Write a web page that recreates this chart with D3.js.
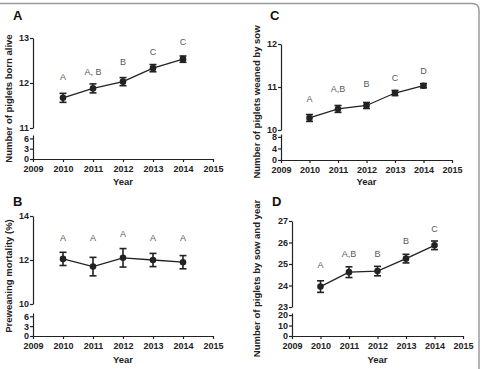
<!DOCTYPE html>
<html>
<head>
<meta charset="utf-8">
<script src="https://cdn.jsdelivr.net/npm/d3@7"></script>
<style>
  body { margin: 0; background: #fff; }
  svg { display: block; font-family: "Liberation Sans", Arial, sans-serif; }
</style>
</head>
<body>
<div id="chart"></div>
<script>
const years = [2010, 2011, 2012, 2013, 2014];
const xTicks = [2009, 2010, 2011, 2012, 2013, 2014, 2015];

// A: piglets born alive
const bornAlive = [11.67, 11.88, 12.03, 12.33, 12.53];
const bornAliveErr = [0.1, 0.1, 0.09, 0.08, 0.07];
const bornAliveLetters = ["A", "A, B", "B", "C", "C"];
const bornAliveLetterAt = [12.13, 12.25, 12.47, 12.69, 12.92];

// B: preweaning mortality (%)
const mortality = [12.05, 11.7, 12.1, 12.0, 11.9];
const mortalityErr = [0.3, 0.42, 0.42, 0.3, 0.3];
const mortalityLetters = ["A", "A", "A", "A", "A"];
const mortalityLetterAt = [13.0, 13.0, 13.2, 13.0, 13.0];

// C: piglets weaned by sow
const weaned = [10.28, 10.49, 10.57, 10.86, 11.03];
const weanedErr = [0.08, 0.08, 0.07, 0.06, 0.05];
const weanedLetters = ["A", "A,B", "B", "C", "D"];
const weanedLetterAt = [10.72, 10.95, 11.07, 11.21, 11.37];

// D: piglets by sow and year
const perSowYear = [23.95, 24.62, 24.67, 25.25, 25.87];
const perSowYearErr = [0.27, 0.25, 0.22, 0.2, 0.2];
const perSowYearLetters = ["A", "A,B", "B", "B", "C"];
const perSowYearLetterAt = [24.95, 25.48, 25.48, 26.1, 26.65];

const panels = [
  {tag: "A", values: bornAlive, err: bornAliveErr, letters: bornAliveLetters, letterAt: bornAliveLetterAt,
   title: "Number of piglets born alive",
   left: 33, right: 213, upper: [11, 13], upperRange: [128, 38], upperTicks: [11, 12, 13],
   lower: [0, 7], lowerRange: [159, 135], lowerTicks: [0, 3, 6],
   tagPos: [13, 20], titleX: 9, yearY: 185},
  {tag: "C", values: weaned, err: weanedErr, letters: weanedLetters, letterAt: weanedLetterAt,
   title: "Number of piglets weaned by sow",
   left: 281, right: 452, upper: [10, 12], upperRange: [130, 44], upperTicks: [10, 11, 12],
   lower: [0, 9], lowerRange: [160, 134], lowerTicks: [0, 4, 8],
   tagPos: [270, 20], titleX: 257, yearY: 185},
  {tag: "B", values: mortality, err: mortalityErr, letters: mortalityLetters, letterAt: mortalityLetterAt,
   title: "Preweaning mortality (%)",
   left: 33, right: 213, upper: [10, 14], upperRange: [304, 216], upperTicks: [10, 12, 14],
   lower: [0, 7], lowerRange: [336, 313], lowerTicks: [0, 3, 6],
   tagPos: [13, 206], titleX: 9, yearY: 363},
  {tag: "D", values: perSowYear, err: perSowYearErr, letters: perSowYearLetters, letterAt: perSowYearLetterAt,
   title: "Number of piglets by sow and year",
   left: 292, right: 463, upper: [23, 27], upperRange: [307, 221], upperTicks: [23, 24, 25, 26, 27],
   lower: [0, 22], lowerRange: [336, 313], lowerTicks: [0, 10, 20],
   tagPos: [272, 206], titleX: 257, yearY: 363}
];

const svg = d3.select("#chart")
  .append("svg")
    .attr("width", 483)
    .attr("height", 369);

// figure frame: top line and right edge with rounded corner
svg.append("path")
  .attr("d", "M0,3.5 H472 Q479,3.5 479,10.5 V369")
  .attr("fill", "none")
  .attr("stroke", "#9a9a9a")
  .attr("stroke-width", 1.5);

const intFmt = d3.format("d");

panels.forEach(function(p) {
  const g = svg.append("g");
  const x = d3.scaleLinear().domain([2009, 2015]).range([p.left, p.right]);
  const y = d3.scaleLinear().domain(p.upper).range(p.upperRange);
  const yLow = d3.scaleLinear().domain(p.lower).range(p.lowerRange);

  const styleAxis = function(sel) {
    sel.selectAll("path, line").attr("stroke", "#222").attr("stroke-width", 1.2);
    sel.selectAll("text")
      .attr("fill", "#222")
      .attr("font-size", 9)
      .attr("font-weight", "bold");
  };

  g.append("g")
    .attr("transform", `translate(${p.left},0)`)
    .call(d3.axisLeft(y).tickValues(p.upperTicks).tickFormat(intFmt).tickSize(3).tickSizeOuter(0).tickPadding(1))
    .call(styleAxis);

  g.append("g")
    .attr("transform", `translate(${p.left},0)`)
    .call(d3.axisLeft(yLow).tickValues(p.lowerTicks).tickFormat(intFmt).tickSize(3).tickSizeOuter(0).tickPadding(1))
    .call(styleAxis);

  g.append("g")
    .attr("transform", `translate(0,${p.lowerRange[0]})`)
    .call(d3.axisBottom(x).tickValues(xTicks).tickFormat(intFmt).tickSize(3).tickSizeOuter(0).tickPadding(3.5))
    .call(styleAxis);

  // connecting line
  g.append("path")
    .datum(years)
    .attr("fill", "none")
    .attr("stroke", "#222")
    .attr("stroke-width", 1.3)
    .attr("d", d3.line()
      .x(function(d) { return x(d); })
      .y(function(d, i) { return y(p.values[i]); }));

  // error bars
  const bars = g.selectAll(".err")
    .data(years)
    .enter().append("g");
  bars.append("line")
    .attr("x1", function(d) { return x(d); })
    .attr("x2", function(d) { return x(d); })
    .attr("y1", function(d, i) { return y(p.values[i] - p.err[i]); })
    .attr("y2", function(d, i) { return y(p.values[i] + p.err[i]); })
    .attr("stroke", "#222").attr("stroke-width", 1.6);
  [-1, 1].forEach(function(s) {
    bars.append("line")
      .attr("x1", function(d) { return x(d) - 3.5; })
      .attr("x2", function(d) { return x(d) + 3.5; })
      .attr("y1", function(d, i) { return y(p.values[i] + s * p.err[i]); })
      .attr("y2", function(d, i) { return y(p.values[i] + s * p.err[i]); })
      .attr("stroke", "#222").attr("stroke-width", 1.6);
  });
  bars.append("circle")
    .attr("cx", function(d) { return x(d); })
    .attr("cy", function(d, i) { return y(p.values[i]); })
    .attr("r", 3.3)
    .attr("fill", "#222");

  // significance letters
  g.selectAll(".letter")
    .data(years)
    .enter().append("text")
      .attr("x", function(d) { return x(d); })
      .attr("y", function(d, i) { return y(p.letterAt[i]); })
      .attr("dy", "0.35em")
      .attr("text-anchor", "middle")
      .attr("font-size", 9)
      .attr("fill", "#5a5a5a")
      .text(function(d, i) { return p.letters[i]; });

  // panel tag
  g.append("text")
    .attr("x", p.tagPos[0])
    .attr("y", p.tagPos[1])
    .attr("font-size", 13)
    .attr("font-weight", "bold")
    .attr("fill", "#111")
    .text(p.tag);

  // y title
  const midY = (p.upperRange[1] + p.lowerRange[0]) / 2;
  g.append("text")
    .attr("transform", `translate(${p.titleX},${midY}) rotate(-90)`)
    .attr("dy", "0.35em")
    .attr("text-anchor", "middle")
    .attr("font-size", 9.5)
    .attr("font-weight", "bold")
    .attr("fill", "#222")
    .text(p.title);

  // x title
  g.append("text")
    .attr("x", (p.left + p.right) / 2)
    .attr("y", p.yearY)
    .attr("text-anchor", "middle")
    .attr("font-size", 9.5)
    .attr("font-weight", "bold")
    .attr("fill", "#222")
    .text("Year");
});
</script>
</body>
</html>
